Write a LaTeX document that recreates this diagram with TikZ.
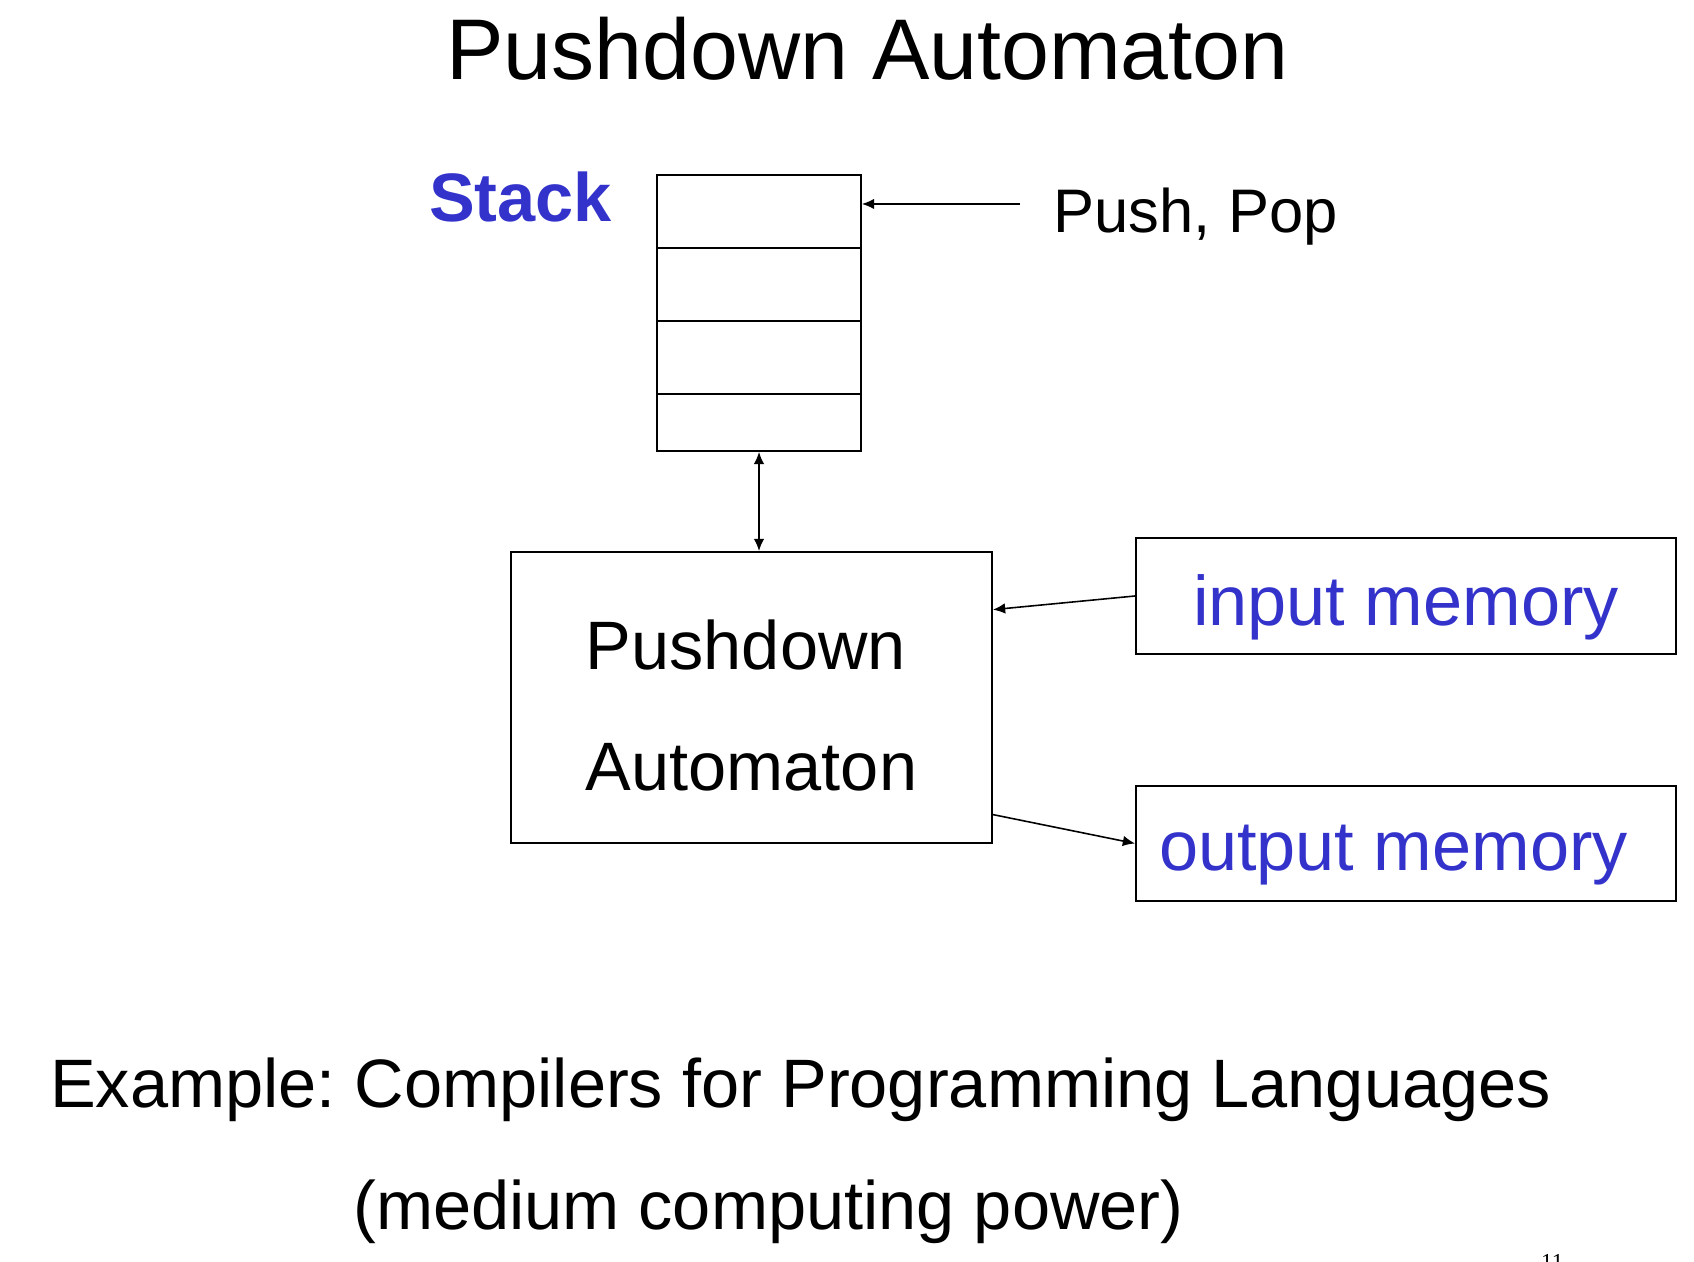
\documentclass[tikz,border=0pt]{standalone}
\usepackage{fontspec}
\setmainfont{Liberation Sans}
\newfontfamily\pagefont{Liberation Serif}
\usetikzlibrary{positioning,calc,arrows.meta}
\definecolor{memblue}{RGB}{51,51,204}
\frenchspacing

\tikzset{
	box/.style={rectangle, draw, line width=1pt, inner sep=0pt},
	membox/.style={box, minimum width=10.8cm, text=memblue, font=\fontsize{40}{48}\selectfont},
	link/.style={->, line width=0.9pt},
}

\begin{document}
\begin{tikzpicture}[>={Latex[length=7pt,width=6pt]}]
		\useasboundingbox (0,0) rectangle (33.88,25.24);
		\node[anchor=base, font=\fontsize{49}{58}\selectfont] (title) at (17.35,23.64) {Pushdown Automaton};

		% stack with its cells
		\node[box, minimum width=4.08cm, minimum height=5.52cm] (stack) at (15.18,18.98) {};
		\foreach \y in {20.28,18.82,17.36} {
			\draw[line width=1pt] (13.14,\y) -- (17.22,\y);
		}
		\node[anchor=base west, text=memblue, font=\bfseries\fontsize{39}{47}\selectfont] (stacklabel) at (8.46,20.8) {Stack};
		\node[anchor=base west, font=\fontsize{35}{42}\selectfont] (pushpop) at (20.95,20.58) {Push, Pop};
		\coordinate (pushfrom) at (20.4,21.16);
		\draw[link] (pushfrom) -- (pushfrom -| stack.east);

		% automaton and its memories
		\node[box, minimum width=9.62cm, minimum height=5.82cm, font=\fontsize{39}{69}\selectfont] (pda) at (15.03,11.29)
			{\raisebox{-0.16cm}[\height][\depth]{\begin{tabular}{@{}l@{}}Pushdown\\Automaton\end{tabular}}};
		\draw[link, <->] (stack.south) -- (stack.south |- pda.north);

		\node[membox, minimum height=2.32cm] (inmem) at (28.12,13.32) {\raisebox{-0.22cm}[\height][\depth]{input memory}};
		\node[membox, minimum height=2.3cm] (outmem) at (28.12,8.37) {\raisebox{-0.24cm}[\height][\depth]{output memory}\hspace*{0.5cm}};
		\draw[link] (inmem.west) -- ($(pda.north east)!0.2!(pda.south east)$);
		\draw[link] ($(pda.north east)!0.9!(pda.south east)$) -- (outmem.west);

		\node[anchor=base west, font=\fontsize{39}{47}\selectfont] (example) at (0.88,3.08) {Example: Compilers for Programming Languages};
		\node[anchor=base west, font=\fontsize{39}{47}\selectfont] (power) at (6.94,0.64) {(medium computing power)};
		\node[anchor=base west, font=\pagefont\fontsize{13}{15}\selectfont] (pagenum) at (30.7,-0.16) {11};
	\end{tikzpicture}
\end{document}
